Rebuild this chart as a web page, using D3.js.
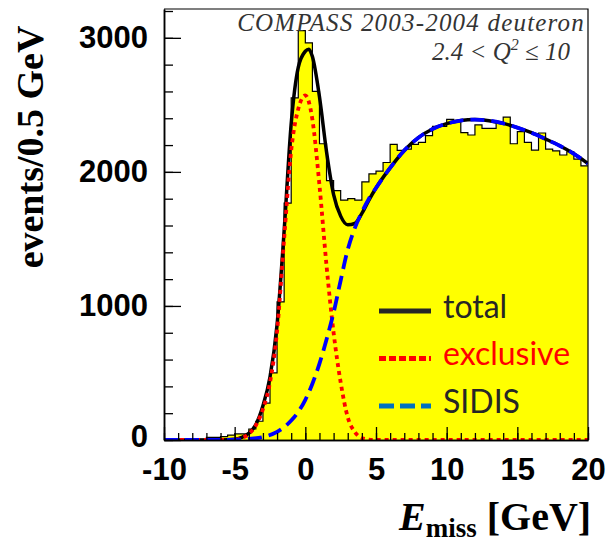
<!DOCTYPE html>
<html>
<head>
<meta charset="utf-8">
<script src="https://cdn.jsdelivr.net/npm/d3@7/dist/d3.min.js"></script>
<style>
  html, body { margin: 0; padding: 0; background: #fff; }
  svg { display: block; }
</style>
</head>
<body>
<script>
// Missing-energy spectrum, 0.5 GeV bins from -10 to 20 GeV
const binWidth = 0.5;
const binStart = -10;
const counts = [
  0, 0, 2, 3, 2, 4,            // -10 .. -7.5
  20, 20, 25, 37, 45, 45,      // -7 .. -4.5
  82, 140, 275, 500, 1030, 1767, // -4 .. -1.5
  2552, 3053, 2963, 2600, 2210, 1935, // -1 .. 1.5
  1860, 1790, 1800, 1790, 1925, 1985, // 2 .. 4.5
  2005, 2070, 2205, 2160, 2170, 2205, // 5 .. 7.5
  2220, 2270, 2340, 2340, 2392, 2380, // 8 .. 10.5
  2293, 2275, 2350, 2325, 2325, 2370, // 11 .. 13.5
  2408, 2210, 2300, 2220, 2162, 2290, // 14 .. 16.5
  2170, 2156, 2126, 2150, 2095, 2045  // 17 .. 19.5
];

// Fit components
const totalX = [-10, -6, -5, -4.5, -4, -3.5, -3, -2.5, -2, -1.5, -1, -0.5, 0, 0.25, 0.5, 1, 1.5, 2, 2.5, 3, 3.5, 4, 4.5, 5, 6, 7, 8, 9, 10, 11, 12, 13, 14, 15, 16, 17, 18, 19, 20];
const totalY = [0, 0, 5, 20, 50, 115, 255, 470, 860, 1560, 2360, 2780, 2900, 2915, 2860, 2560, 2150, 1830, 1670, 1605, 1615, 1690, 1790, 1880, 2030, 2160, 2255, 2320, 2360, 2383, 2390, 2382, 2362, 2330, 2292, 2245, 2195, 2135, 2062];

const exclX = [-10, -6, -5, -4.5, -4, -3.5, -3, -2.5, -2, -1.5, -1, -0.5, 0, 0.5, 1, 1.5, 2, 2.5, 3, 3.5, 4, 4.5, 5, 20];
const exclY = [0, 0, 2, 15, 45, 110, 230, 430, 810, 1500, 2160, 2470, 2570, 2390, 1900, 1300, 800, 430, 170, 60, 15, 3, 0, 0];

const sidisX = [-10, -5, -4, -3, -2, -1, -0.5, 0, 0.5, 1, 1.5, 2, 2.5, 3, 3.5, 4, 4.5, 5, 6, 7, 8, 9, 10, 11, 12, 13, 14, 15, 16, 17, 18, 19, 20];
const sidisY = [0, 2, 8, 22, 60, 145, 210, 300, 420, 570, 750, 950, 1190, 1420, 1580, 1700, 1800, 1880, 2030, 2160, 2255, 2320, 2360, 2383, 2390, 2382, 2362, 2330, 2292, 2245, 2195, 2135, 2062];

const xTicks = [-10, -5, 0, 5, 10, 15, 20];
const yTicks = [0, 1000, 2000, 3000];
const legendLabels = ["total", "exclusive", "SIDIS"];

const W = 606, H = 542;
const plot = { left: 164, right: 588, top: 9, bottom: 440 };

const x = d3.scaleLinear().domain([-10, 20]).range([plot.left, plot.right]);
const y = d3.scaleLinear().domain([0, 3215]).range([plot.bottom, plot.top]);

const svg = d3.select("body").append("svg").attr("width", W).attr("height", H);

svg.append("defs").append("clipPath").attr("id", "frame")
  .append("rect").attr("x", plot.left).attr("y", plot.top)
  .attr("width", plot.right - plot.left).attr("height", plot.bottom - plot.top);

// Histogram: step outline with yellow fill
const steps = counts.map((c, i) => ({ x: binStart + i * binWidth, y: c }));
steps.push({ x: binStart + counts.length * binWidth, y: counts[counts.length - 1] });

const stepArea = d3.area().curve(d3.curveStepAfter)
  .x(d => x(d.x)).y0(y(0)).y1(d => y(d.y));
const stepLine = d3.line().curve(d3.curveStepAfter)
  .x(d => x(d.x)).y(d => y(d.y));

const g = svg.append("g").attr("clip-path", "url(#frame)");
g.append("path").datum(steps).attr("d", stepArea).attr("fill", "#ffff00");
g.append("path").datum(steps).attr("d", stepLine)
  .attr("fill", "none").attr("stroke", "#000").attr("stroke-width", 1.2);

// Fit curves: total underneath, components dashed on top
const curve = (xs, ys) => d3.line().curve(d3.curveMonotoneX)
  .x((d, i) => x(xs[i])).y(d => y(d))(ys);

g.append("path").attr("d", curve(totalX, totalY))
  .attr("fill", "none").attr("stroke", "#000").attr("stroke-width", 3.5);
g.append("path").attr("d", curve(exclX, exclY))
  .attr("fill", "none").attr("stroke", "#ff0000").attr("stroke-width", 3.8)
  .attr("stroke-dasharray", "4,4");
g.append("path").attr("d", curve(sidisX, sidisY))
  .attr("fill", "none").attr("stroke", "#0000ff").attr("stroke-width", 3.8)
  .attr("stroke-dasharray", "14,7");

// Frame (top and right)
svg.append("path")
  .attr("d", `M${plot.left},${plot.top}H${plot.right}V${plot.bottom}`)
  .attr("fill", "none").attr("stroke", "#000").attr("stroke-width", 1.2);

const tickFont = "'Liberation Sans', Arial, sans-serif";
const plain = d => String(d);

// Y axis
const yMinor = d3.range(0, 3201, 200);
const yAxisMinor = d3.axisLeft(y).tickValues(yMinor).tickSize(-9).tickFormat("").tickSizeOuter(0);
const yAxisMajor = d3.axisLeft(y).tickValues(yTicks).tickSize(-17).tickPadding(16)
  .tickFormat(plain).tickSizeOuter(0);

const ya = svg.append("g").attr("transform", `translate(${plot.left},0)`);
ya.call(yAxisMinor);
ya.append("g").call(yAxisMajor);
ya.selectAll("path.domain").attr("stroke-width", 1.5);
ya.selectAll(".tick line").attr("stroke-width", 1.3);
ya.selectAll("text").attr("font-family", tickFont).attr("font-weight", "bold")
  .attr("font-size", 31).attr("fill", "#000");
// keep the zero label clear of the x labels below it
ya.selectAll(".tick text").filter(d => d === 0).attr("dy", "0.2em");

// X axis
const xMinor = d3.range(-10, 20.001, 1);
const xAxisMinor = d3.axisBottom(x).tickValues(xMinor).tickSize(-7).tickFormat("").tickSizeOuter(0);
const xAxisMajor = d3.axisBottom(x).tickValues(xTicks).tickSize(-13).tickPadding(18)
  .tickFormat(plain).tickSizeOuter(0);

const xa = svg.append("g").attr("transform", `translate(0,${plot.bottom})`);
xa.call(xAxisMinor);
xa.append("g").call(xAxisMajor);
xa.selectAll("path.domain").attr("stroke-width", 1.5);
xa.selectAll(".tick line").attr("stroke-width", 1.3);
xa.selectAll("text").attr("font-family", tickFont).attr("font-weight", "bold")
  .attr("font-size", 31).attr("fill", "#000");

// Axis titles
const serif = "'Liberation Serif', 'Times New Roman', serif";
svg.append("text")
  .attr("transform", "translate(43,147) rotate(-90)")
  .attr("text-anchor", "middle")
  .attr("font-family", serif).attr("font-weight", "bold").attr("font-size", 38)
  .text("events/0.5 GeV");

const xt = svg.append("text").attr("x", 399).attr("y", 530)
  .attr("font-family", serif).attr("font-weight", "bold").attr("font-size", 40);
xt.append("tspan").attr("font-style", "italic").text("E");
xt.append("tspan").attr("font-size", 27).attr("dy", 7).text("miss");
xt.append("tspan").attr("dy", -7).text(" [GeV]");

// Data-set annotation
const note = svg.append("g").attr("font-family", serif).attr("font-style", "italic")
  .attr("fill", "#333").attr("font-size", 25);
note.append("text").attr("x", 585).attr("y", 31).attr("text-anchor", "end")
  .attr("letter-spacing", 1.2).text("COMPASS 2003-2004 deuteron");
const q = note.append("text").attr("x", 570).attr("y", 60).attr("text-anchor", "end");
q.append("tspan").text("2.4 < Q");
q.append("tspan").attr("font-size", 16).attr("dy", -10).text("2");
q.append("tspan").attr("dy", 10).text(" ≤ 10");

// Legend
const legend = svg.append("g");
const legendStyle = [
  { stroke: "#262626", dash: null, text: "#262626" },
  { stroke: "#ff0000", dash: "7,3", text: "#ff0000" },
  { stroke: "#0070c0", dash: "15,6", text: "#262626" }
];
legendLabels.forEach((label, i) => {
  const yy = 311 + i * 47.5;
  const s = legendStyle[i];
  legend.append("line").attr("x1", 379).attr("x2", 431).attr("y1", yy).attr("y2", yy)
    .attr("stroke", s.stroke).attr("stroke-width", 5)
    .attr("stroke-dasharray", s.dash);
  legend.append("text").attr("x", 443).attr("y", yy + 6.5)
    .attr("font-family", "Lato, 'Open Sans', sans-serif").attr("font-size", 32)
    .attr("fill", s.text).text(label);
});
</script>
</body>
</html>
